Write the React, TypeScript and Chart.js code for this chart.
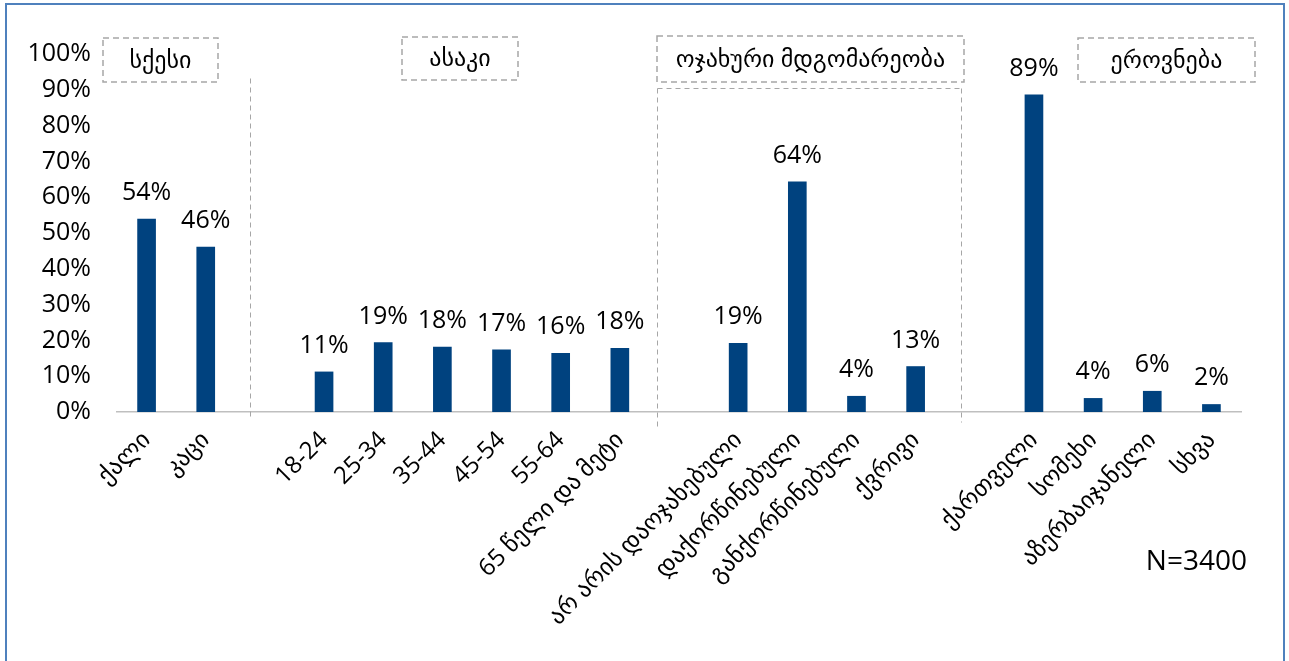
import React, { useEffect, useRef } from 'react';
import { Chart, registerables } from 'chart.js';

Chart.register(...registerables);

// ---------- data ----------
const categories: string[] = [
  'ქალი', 'კაცი', '',
  '18-24', '25-34', '35-44', '45-54', '55-64', '65 წელი და მეტი', '',
  'არ არის დაოჯახებული', 'დაქორწინებული', 'განქორწინებული', 'ქვრივი', '',
  'ქართველი', 'სომეხი', 'აზერბაიჯანელი', 'სხვა',
];
const values: (number | null)[] = [
  53.9, 46.1, null,
  11.2, 19.4, 18.1, 17.4, 16.4, 17.8, null,
  19.2, 64.3, 4.4, 12.7, null,
  88.6, 3.8, 5.8, 2.1,
];
const yTickValues: number[] = [0, 10, 20, 30, 40, 50, 60, 70, 80, 90, 100];
const groupTitles: string[] = ['სქესი', 'ასაკი', 'ოჯახური მდგომარეობა', 'ეროვნება'];
const sampleNote = 'N=3400';

// ---------- styling / decoration ----------
const FONT = "'Open Sans', 'DejaVu Sans', sans-serif";
const BAR_COLOR = '#00427F';
const DASH_COLOR = '#A6A6A6';

// title boxes in canvas pixels [x1, y1, x2, y2]
const titleBoxes: [number, number, number, number][] = [
  [103, 38, 218, 82],
  [402, 37, 518, 80],
  [657, 36, 964, 82],
  [1078, 38, 1255, 82],
];
// dashed separator lines [x1, y1, x2, y2]
const separators: [number, number, number, number][] = [
  [250, 78, 250, 418],
  [657, 88, 657, 430],
  [961, 88, 961, 422],
  [657, 88, 961, 88],
];

const decorPlugin = {
  id: 'decor',
  afterDatasetsDraw(chart: any) {
    const ctx = chart.ctx as CanvasRenderingContext2D;
    ctx.save();
    // data labels
    const meta = chart.getDatasetMeta(0);
    ctx.fillStyle = '#000';
    ctx.font = `25px ${FONT}`;
    ctx.textAlign = 'center';
    ctx.textBaseline = 'alphabetic';
    meta.data.forEach((bar: any, i: number) => {
      const v = values[i];
      if (v === null || v === undefined) return;
      ctx.fillText(`${Math.round(v)}%`, bar.x, bar.y - 19);
    });
    // separators
    ctx.strokeStyle = DASH_COLOR;
    ctx.lineWidth = 1;
    ctx.setLineDash([5, 4]);
    separators.forEach(([x1, y1, x2, y2]) => {
      ctx.beginPath();
      ctx.moveTo(x1 + 0.5, y1 + 0.5);
      ctx.lineTo(x2 + 0.5, y2 + 0.5);
      ctx.stroke();
    });
    // title boxes
    ctx.lineWidth = 1.5;
    ctx.setLineDash([6, 4]);
    titleBoxes.forEach(([x1, y1, x2, y2], i) => {
      ctx.strokeStyle = DASH_COLOR;
      ctx.strokeRect(x1, y1, x2 - x1, y2 - y1);
      ctx.fillStyle = '#000';
      ctx.font = `24px ${FONT}`;
      ctx.textAlign = 'center';
      ctx.textBaseline = 'middle';
      ctx.fillText(groupTitles[i], (x1 + x2) / 2, (y1 + y2) / 2 + 1);
    });
    ctx.setLineDash([]);
    // sample size note
    ctx.fillStyle = '#000';
    ctx.font = `28px ${FONT}`;
    ctx.textAlign = 'right';
    ctx.textBaseline = 'alphabetic';
    ctx.fillText(sampleNote, 1247, 570);
    ctx.restore();
  },
};

export default function App() {
  const canvasRef = useRef<HTMLCanvasElement | null>(null);

  useEffect(() => {
    if (!canvasRef.current) return;
    const chart = new Chart(canvasRef.current, {
      type: 'bar',
      data: {
        labels: categories,
        datasets: [
          {
            data: values,
            backgroundColor: BAR_COLOR,
            barThickness: 18,
          },
        ],
      },
      options: {
        responsive: false,
        animation: false,
        layout: { padding: { top: 54, right: 48, left: 0, bottom: 0 } },
        plugins: {
          legend: { display: false },
          tooltip: { enabled: false },
          title: { display: false },
        },
        scales: {
          x: {
            grid: { display: false },
            border: { display: true, color: '#BFBFBF', width: 1.5 },
            ticks: {
              autoSkip: false,
              minRotation: 45,
              maxRotation: 45,
              padding: 6,
              color: '#000',
              font: { family: FONT, size: 24 },
            },
            afterFit: (s: any) => {
              s.height = 661 - 412;
            },
          },
          y: {
            min: 0,
            max: 100,
            grid: { display: false },
            border: { display: false },
            afterBuildTicks: (s: any) => {
              s.ticks = yTickValues.map((v) => ({ value: v }));
            },
            ticks: {
              padding: 18,
              color: '#000',
              font: { family: FONT, size: 25 },
              callback: (v: any) => `${v}%`,
            },
            afterFit: (s: any) => {
              s.width = 117;
            },
          },
        },
      },
      plugins: [decorPlugin],
    });
    return () => chart.destroy();
  }, []);

  return (
    <div
      style={{
        position: 'fixed',
        left: 0,
        top: 0,
        width: 1289,
        height: 661,
        overflow: 'hidden',
        background: '#fff',
      }}
    >
      <canvas ref={canvasRef} width={1289} height={661} style={{ display: 'block' }} />
      <div
        style={{
          position: 'absolute',
          left: 5,
          top: 3,
          width: 1276,
          height: 720,
          border: '2px solid #4F81BD',
          pointerEvents: 'none',
        }}
      />
    </div>
  );
}
